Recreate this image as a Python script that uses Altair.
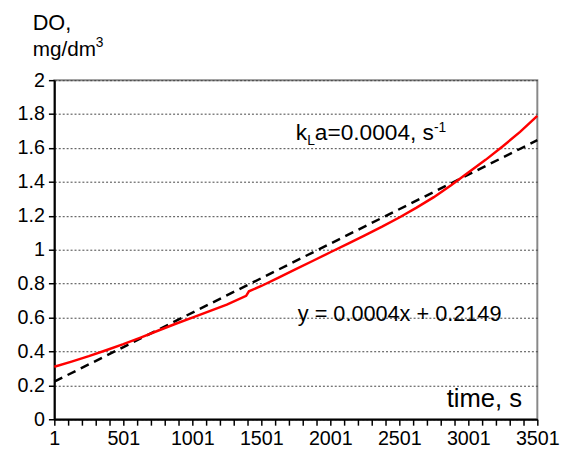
import altair as alt
import pandas as pd

# Measured dissolved oxygen curve (red)
time_s = [1, 126, 251, 376, 501, 626, 751, 876, 1001, 1126, 1251, 1391, 1411, 1501, 1626, 1751,
          1876, 2001, 2126, 2251, 2376, 2501, 2626, 2751, 2876, 3001, 3126, 3251, 3376, 3501]
do_mg = [0.31, 0.34, 0.372, 0.407, 0.443, 0.482, 0.522, 0.562, 0.60, 0.638, 0.676, 0.728, 0.755,
         0.786, 0.836, 0.885, 0.935, 0.985, 1.035, 1.085, 1.136, 1.19, 1.248, 1.31, 1.38, 1.455,
         1.53, 1.61, 1.695, 1.79]

# Linear trend line (black dashed)
trend_t = [1, 3501]
trend_v = [0.222, 1.646]

y_ticks = [0, 0.2, 0.4, 0.6, 0.8, 1.0, 1.2, 1.4, 1.6, 1.8, 2.0]
x_ticks = list(range(1, 3502, 100))

FONT = "Liberation Sans"

df = pd.DataFrame({"t": time_s, "v": do_mg})
dt = pd.DataFrame({"t": trend_t, "v": trend_v})

xs = alt.Scale(domain=[1, 3501], nice=False, zero=False)
ys = alt.Scale(domain=[0, 2], nice=False, zero=True)

x_axis = alt.Axis(values=x_ticks, labelExpr="(datum.value - 1) % 500 == 0 ? datum.label : ''",
                  format="d", grid=False, title=None, domainColor="black", domainWidth=2,
                  tickColor="black", tickWidth=1.5, tickSize=6, labelFontSize=20, labelFont=FONT,
                  labelColor="black", labelPadding=4, labelFlush=False, labelOverlap=False)
y_axis = alt.Axis(values=y_ticks, format="~g", grid=True, gridColor="#444444", gridDash=[2, 2],
                  gridWidth=1, title=None, domainColor="black", domainWidth=2, tickColor="black",
                  tickWidth=1.5, tickSize=6, labelFontSize=20, labelFont=FONT, labelColor="black",
                  labelPadding=4, labelFlush=False, labelOverlap=False)

trend = alt.Chart(dt).mark_line(color="black", strokeWidth=2.5, strokeDash=[9, 6]).encode(
    x=alt.X("t:Q", scale=xs, axis=x_axis),
    y=alt.Y("v:Q", scale=ys, axis=y_axis),
)
curve = alt.Chart(df).mark_line(color="#ff0000", strokeWidth=2.5).encode(
    x=alt.X("t:Q", scale=xs, axis=x_axis),
    y=alt.Y("v:Q", scale=ys, axis=y_axis),
)


def label(text, x, y, size, align="left"):
    return alt.Chart(pd.DataFrame({"a": [0]})).mark_text(
        text=text, font=FONT, fontSize=size, color="black", align=align, baseline="alphabetic"
    ).encode(x=alt.value(x), y=alt.value(y))


texts = [
    label("DO,", -22, -51, 22),
    label("mg/dm", -22, -25, 21),
    label("3", 42, -34, 14),
    label("k", 245, 61, 23),
    label("L", 256.5, 66, 14),
    label("a=0.0004, s", 264.3, 61, 23),
    label("-1", 385.1, 53, 14),
    label("y = 0.0004x + 0.2149", 247, 244, 22),
    label("time, s", 398, 332, 26),
]

chart = alt.layer(trend, curve, *texts).properties(
    width=490, height=344,
    autosize=alt.AutoSizeParams(type="none"),
    padding={"left": 47, "top": 70, "right": 23, "bottom": 31},
).configure_view(stroke="#888888", strokeWidth=2).configure_axis(labelOverlap=False)

chart.save("out.html", embed_options={"renderer": "svg", "actions": False})
